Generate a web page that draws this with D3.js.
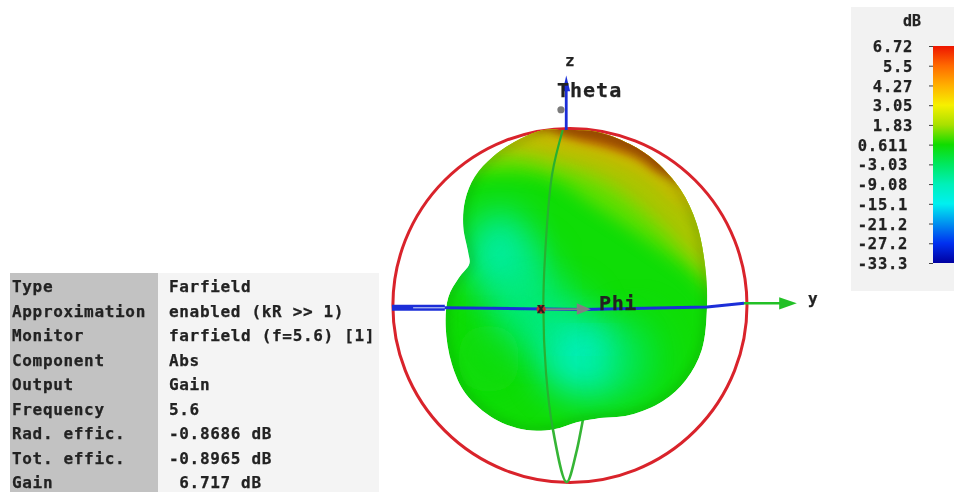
<!DOCTYPE html>
<html><head><meta charset="utf-8">
<script src="https://cdn.jsdelivr.net/npm/d3@7"></script>
<style>html,body{margin:0;padding:0;background:#fff;overflow:hidden}svg{display:block}
text{font-family:"DejaVu Sans Mono",monospace;font-weight:bold;fill:#222;stroke:#222;stroke-width:.25px}</style>
</head><body><svg width="954" height="492"></svg>
<script>
// ---- data ----
const infoLabels = ["Type","Approximation","Monitor","Component","Output","Frequency","Rad. effic.","Tot. effic.","Gain"];
const infoValues = ["Farfield","enabled (kR >> 1)","farfield (f=5.6) [1]","Abs","Gain","5.6","-0.8686 dB","-0.8965 dB"," 6.717 dB"];
const legendTicks = ["6.72","5.5","4.27","3.05","1.83","0.611","-3.03","-9.08","-15.1","-21.2","-27.2","-33.3"];
const legendColors = ["#ee1500","#ff6a00","#ffb000","#f6f000","#a8e000","#10dc00","#00e860","#00f0b8","#00f0f0","#0090f0","#0030f0","#0000a0"];
// pattern cross-section, in sphere radii
const patternY = [-.03,.16,.35,.50,.64,.73,.78,.79,.76,.67,.54,.35,.16,.05,-.08,-.235,-.42,-.58,-.66,-.695,-.68,-.62,-.56,-.566,-.595,-.585,-.53,-.425,-.27,-.14];
const patternZ = [1.0,.99,.92,.82,.66,.47,.22,0,-.25,-.42,-.54,-.62,-.64,-.66,-.70,-.705,-.64,-.50,-.33,-.12,.05,.16,.24,.30,.45,.60,.735,.85,.95,1.0];
// gain contours on the upper lobe
const contourDb = [1.4,2.6,3.6,5.5];
const contourY = [
 [-.62,-.5,-.12,.16,.447,.71,.825,1.1,1.1,-.62],
 [-.5,-.35,-.08,.22,.50,.69,.825,1.1,1.1,-.5],
 [-.4,-.27,-.03,.26,.485,.62,.9,1.1,1.1,-.4],
 [-.2,-.12,.01,.24,.40,.52,.8,1.1,1.1,-.2]];
const contourZ = [
 [.72,.754,.735,.565,.375,.186,.07,.07,1.25,1.25],
 [.84,.867,.81,.70,.49,.30,.185,.185,1.25,1.25],
 [.92,.94,.895,.82,.72,.60,.5,.5,1.25,1.25],
 [1.0,1.01,.96,.90,.84,.76,.66,.66,1.25,1.25]];
// low-gain patches on the surface
const patchY  = [-.39,-.25,-.14,.11,.11,-.45,.38];
const patchZ  = [.30,.05,-.08,-.30,-.19,-.30,-.30];
const patchRy = [.19,.18,.28,.28,.14,.18,.18];
const patchRz = [.24,.3,.2,.22,.05,.2,.25];
const patchDb = [-8.5,-7.5,-5,-9.5,-15,0.2,-2];
const patchOp = [.9,.7,.8,.95,.55,.7,.5];
const meridianY = [-.03,-.09,-.125,-.14,-.125,-.085,-.008,.05,.085];
const meridianZ = [1.0,.75,.375,0,-.38,-.705,-1.0,-.82,-.645];
const hAxisY = [-1.0,-.7,.08,.79,1.0];
const hAxisZ = [-.01,-.01,-.02,-.005,.015];

// ---- page ----
const svg = d3.select("svg");
const defs = svg.append("defs");
const soft = (id,s)=>defs.append("filter").attr("id",id).attr("x","-40%").attr("y","-40%").attr("width","180%").attr("height","180%")
  .append("feGaussianBlur").attr("stdDeviation",s);
soft("b18",18); soft("b12",12); soft("b9",9); soft("b5",5); soft("tb",.42); soft("lb",.5);

const sx = d3.scaleLinear().domain([0,1]).range([568,744]);
const sz = d3.scaleLinear().domain([0,1]).range([306,130]);
const color = d3.scaleLinear().domain(legendTicks.map(Number).reverse()).range(legendColors.slice().reverse()).interpolate(d3.interpolateRgb);

// info table
const rowY = d3.scalePoint().domain(d3.range(infoLabels.length)).range([292,488]);
svg.append("rect").attr("x",10).attr("y",273).attr("width",148).attr("height",219).attr("fill","#c2c2c2");
svg.append("rect").attr("x",158).attr("y",273).attr("width",221).attr("height",219).attr("fill","#f4f4f4");
const tbl = svg.append("g").attr("filter","url(#tb)").style("font-size","16px").style("letter-spacing","0.67px");
tbl.selectAll(".l").data(infoLabels).join("text").attr("class","l").attr("x",12).attr("y",(d,i)=>rowY(i)).text(d=>d);
tbl.selectAll(".v").data(infoValues).join("text").attr("class","v").attr("x",169).attr("y",(d,i)=>rowY(i)).attr("xml:space","preserve").style("white-space","pre").text(d=>d);

// legend
svg.append("rect").attr("x",851).attr("y",7).attr("width",103).attr("height",284).attr("fill","#f2f2f2");
const tickPos = d3.scalePoint().domain(legendTicks).range([46,263]);
const grad = defs.append("linearGradient").attr("id","bar").attr("x1",0).attr("y1",0).attr("x2",0).attr("y2",1);
legendTicks.forEach((t,i)=>grad.append("stop").attr("offset",i/(legendTicks.length-1)).attr("stop-color",legendColors[i]));
svg.append("rect").attr("x",933).attr("y",46).attr("width",21).attr("height",217).attr("fill","url(#bar)");
const ax = svg.append("g").attr("transform","translate(933,0)").call(d3.axisLeft(tickPos).tickSize(4).tickPadding(0));
ax.select(".domain").remove();
ax.selectAll("line").attr("stroke","#444");
ax.selectAll("text").attr("filter","url(#tb)").style("font-size","15.5px").style("letter-spacing","0.7px").attr("font-family",null).attr("font-size",null)
  .attr("x",d=>d.length>=5?-25:-20).attr("dy","0.36em");
svg.append("text").attr("x",903).attr("y",26).attr("filter","url(#tb)").style("font-size","15px").text("dB");

// sphere ring
svg.append("circle").attr("cx",sx(.011)).attr("cy",sz(.003)).attr("r",sx(1.006)-sx(0)).attr("fill","none").attr("stroke","#d9232b").attr("stroke-width",3);

// meridian (behind the pattern below it)
const line2 = d3.line().x(i=>sx(meridianY[i])).y(i=>sz(meridianZ[i])).curve(d3.curveCatmullRom);
svg.append("path").attr("d",line2(d3.range(meridianY.length))).attr("fill","none").attr("stroke","#35b535").attr("stroke-width",2.6);

// pattern body
const pts = patternY.map((y,i)=>[sx(y),sz(patternZ[i])]);
const outline = d3.line().curve(d3.curveCatmullRomClosed)(pts);
defs.append("clipPath").attr("id","body").append("path").attr("d",outline);
const body = svg.append("g").attr("clip-path","url(#body)");
body.append("path").attr("d",outline).attr("fill",color(0.4));
body.selectAll(".patch").data(patchDb).join("ellipse").attr("class","patch")
  .attr("cx",(d,i)=>sx(patchY[i])).attr("cy",(d,i)=>sz(patchZ[i]))
  .attr("rx",(d,i)=>sx(patchRy[i])-sx(0)).attr("ry",(d,i)=>sx(patchRz[i])-sx(0))
  .attr("fill",d=>color(d)).attr("opacity",(d,i)=>patchOp[i]).attr("filter","url(#b18)");
const cl = d3.line().curve(d3.curveCatmullRom);
contourDb.forEach((db,k)=>{
  const p = contourY[k].map((y,i)=>[sx(y),sz(contourZ[k][i])]);
  body.append("path").attr("d",cl(p)+"Z").attr("fill",color(db)).attr("opacity",.85).attr("filter",k==3?"url(#b5)":"url(#b9)");
});
// surface shading
body.append("path").attr("d",outline).attr("fill","none").attr("stroke","#0a5a10").attr("stroke-width",8).attr("opacity",.2).attr("filter","url(#b5)");
body.append("path").attr("d",cl(contourY[3].map((y,i)=>[sx(y),sz(contourZ[3][i])]))+"Z").attr("fill","#401000").attr("opacity",.3).attr("filter","url(#b5)");
body.append("path").attr("d",cl(contourY[1].map((y,i)=>[sx(y),sz(contourZ[1][i])]))+"Z").attr("fill","#302000").attr("opacity",.18).attr("filter","url(#b9)");

// meridian in front of the upper body
svg.append("path").attr("d",line2(d3.range(7))).attr("fill","none").attr("stroke","#28b030").attr("stroke-width",2.2).attr("clip-path","url(#body)");

// axes
const g = svg.append("g").attr("filter","url(#lb)");
const hl = d3.line().x(i=>sx(hAxisY[i])).y(i=>sz(hAxisZ[i]));
g.append("path").attr("d",hl(d3.range(hAxisY.length))).attr("fill","none").attr("stroke","#1a2fd8").attr("stroke-width",3);
g.append("line").attr("x1",sx(-1)).attr("x2",sx(-.7)).attr("y1",sz(-.01)).attr("y2",sz(-.01)).attr("stroke","#1a2fd8").attr("stroke-width",6);
g.append("line").attr("x1",sx(-.88)).attr("x2",sx(-.7)).attr("y1",sz(-.01)).attr("y2",sz(-.01)).attr("stroke","#b8c4f0").attr("stroke-width",1.2);
g.append("line").attr("x1",sx(1)).attr("x2",sx(1.25)).attr("y1",sz(.016)).attr("y2",sz(.016)).attr("stroke","#22c025").attr("stroke-width",2.4);
g.append("path").attr("d",d3.line()([[sx(1.2),sz(.05)],[sx(1.3),sz(.016)],[sx(1.2),sz(-.02)]])+"Z").attr("fill","#22c025");
g.append("line").attr("x1",sx(-.01)).attr("x2",sx(-.01)).attr("y1",sz(1)).attr("y2",sz(1.27)).attr("stroke","#1a2fd8").attr("stroke-width",2.8);
g.append("path").attr("d",d3.line()([[sx(-.03),sz(1.22)],[sx(-.01),sz(1.31)],[sx(.012),sz(1.22)]])+"Z").attr("fill","#1a2fd8");
g.append("line").attr("x1",sx(-.153)).attr("x2",sx(.1)).attr("y1",sz(-.018)).attr("y2",sz(-.018)).attr("stroke","#808080").attr("stroke-width",2);
g.append("path").attr("d",d3.line()([[sx(.05),sz(.015)],[sx(.13),sz(-.018)],[sx(.05),sz(-.05)]])+"Z").attr("fill","#808080");
g.append("circle").attr("cx",sx(-.153)).attr("cy",sz(-.018)).attr("r",4.5).attr("fill","#c8252a");
g.append("circle").attr("cx",sx(-.04)).attr("cy",sz(1.115)).attr("r",3.6).attr("fill","#7a7a7a");

const lab = svg.append("g").attr("filter","url(#tb)");
lab.append("text").attr("x",sx(-.153)).attr("y",sz(-.018)+4).attr("text-anchor","middle").style("font-size","14px").text("x");
lab.append("text").attr("x",565).attr("y",66).style("font-size","16px").text("z");
lab.append("text").attr("x",808).attr("y",304).style("font-size","16px").text("y");
lab.append("text").attr("x",557).attr("y",97).style("font-size","20px").style("letter-spacing","1px").text("Theta");
lab.append("text").attr("x",599).attr("y",310).style("font-size","20px").style("letter-spacing","0.6px").text("Phi");
</script></body></html>
